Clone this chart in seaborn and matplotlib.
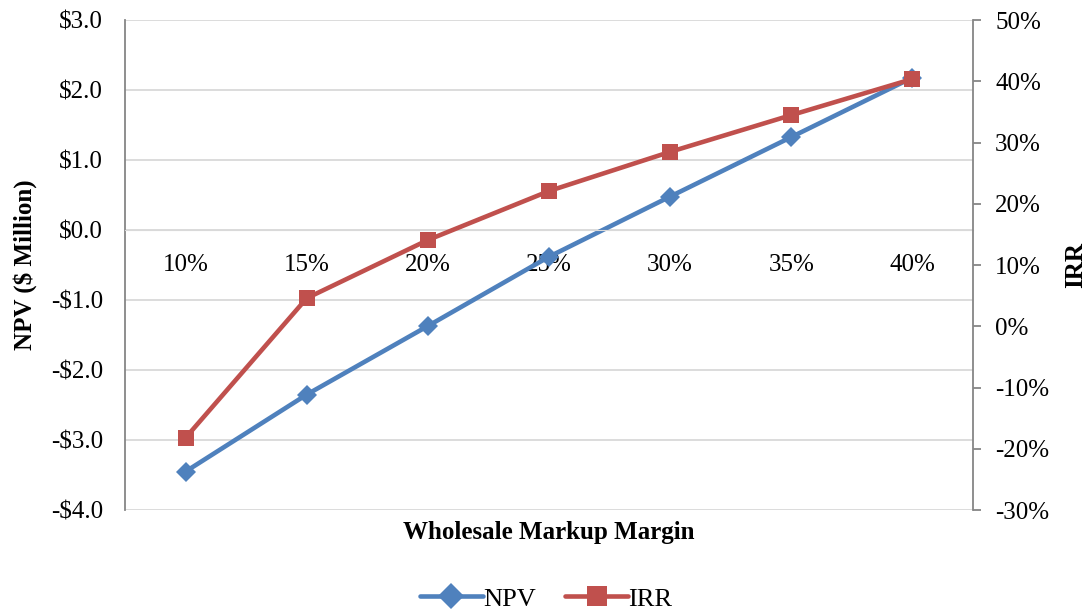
import pandas as pd
import matplotlib.pyplot as plt
import seaborn as sns

# Values
margins = ['10%', '15%', '20%', '25%', '30%', '35%', '40%']
npv = [-3.45, -2.35, -1.37, -0.38, 0.48, 1.33, 2.18]      # $ Million
irr = [-18.2, 4.6, 14.1, 22.1, 28.5, 34.5, 40.4]           # percent

df = pd.DataFrame({'pos': range(len(margins)), 'Margin': margins, 'NPV': npv, 'IRR': irr})

sns.set_style('white')
plt.rcParams['font.family'] = ['Liberation Serif', 'DejaVu Serif']
plt.rcParams['text.color'] = 'black'
plt.rcParams['axes.labelcolor'] = 'black'
plt.rcParams['xtick.color'] = 'black'
plt.rcParams['ytick.color'] = 'black'

blue = '#4F81BD'
red = '#C0504D'
fs = 18

fig, ax = plt.subplots(figsize=(10.92, 6.13), dpi=100)
fig.subplots_adjust(left=0.1145, right=0.891, top=0.967, bottom=0.168)
ax2 = ax.twinx()

sns.lineplot(x='pos', y='NPV', data=df, ax=ax, color=blue, linewidth=3.3,
             marker='D', markersize=10, markeredgewidth=0, label='NPV', legend=False)
sns.lineplot(x='pos', y='IRR', data=df, ax=ax2, color=red, linewidth=3.3,
             marker='s', markersize=11.5, markeredgewidth=0, label='IRR', legend=False)

# left axis
ax.set_ylim(-4, 3)
ax.set_yticks(range(-4, 4))
ax.set_yticklabels(['-$%d.0' % abs(v) if v < 0 else '$%d.0' % v for v in range(-4, 4)])
ax.grid(axis='y', color='#D9D9D9', linewidth=1.3)
ax.set_axisbelow(True)
ax.tick_params(axis='y', length=0, pad=16, labelsize=fs, labelcolor='black')
ax.set_ylabel('NPV ($ Million)', fontsize=fs, fontweight='bold', labelpad=10)

# right axis
ax2.set_ylim(-30, 50)
ax2.set_yticks(range(-30, 51, 10))
ax2.set_yticklabels(['%d%%' % v for v in range(-30, 51, 10)])
ax2.tick_params(axis='y', length=6, width=1.3, color='#868686', pad=10, labelsize=fs,
                labelcolor='black')
for s in ['top', 'left', 'bottom']:
    ax2.spines[s].set_visible(False)
ax2.spines['right'].set_color('#868686')
ax2.spines['right'].set_linewidth(1.3)
ax2.set_ylabel('IRR', fontsize=fs, fontweight='bold', labelpad=11)

# category axis sits on the zero line
ax.set_xlim(-0.5, len(margins) - 0.5)
ax.set_xticks(df['pos'])
ax.set_xticklabels(margins)
ax.tick_params(axis='x', length=0, pad=17, labelsize=fs, labelcolor='black')
ax2.tick_params(axis='x', length=0, labelsize=fs, labelcolor='black')
ax.spines['bottom'].set_position(('data', 0))
ax.spines['bottom'].set_color('#D9D9D9')
ax.spines['top'].set_visible(False)
ax.spines['right'].set_visible(False)
ax.spines['left'].set_color('#868686')
ax.spines['left'].set_linewidth(1.3)
ax.set_xlabel('Wholesale Markup Margin', fontsize=fs, fontweight='bold')
ax.xaxis.set_label_coords(0.5, -0.022)

h1, l1 = ax.get_legend_handles_labels()
h2, l2 = ax2.get_legend_handles_labels()
fig.legend(h1 + h2, l1 + l2, loc='lower center', ncol=2, frameon=False, fontsize=fs + 1,
           bbox_to_anchor=(0.5, -0.035), handlelength=2.4, columnspacing=1.1,
           handletextpad=0.0, markerscale=1.3)

fig.savefig('out.png', dpi=100)
